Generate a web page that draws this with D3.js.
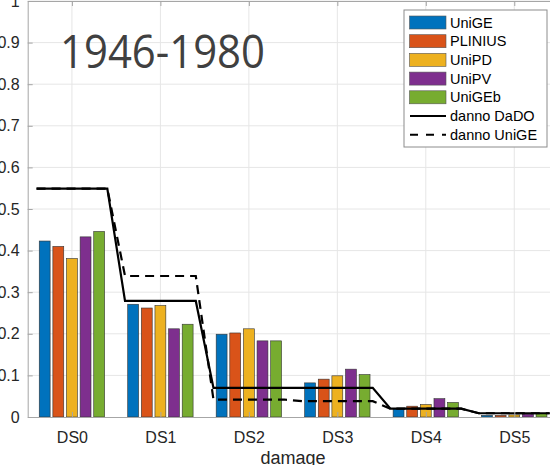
<!DOCTYPE html>
<head>
  <meta charset="UTF-8">
  <script src="https://d3js.org/d3.v7.min.js"></script>
  <title>1946-1980</title>
  <style>
    body { margin: 0; background: #fff; }
    text { font-family: "Liberation Sans", Arial, sans-serif; }
  </style>
</head>
<body>
  <svg id="chart"></svg>
  <script>

    var categories = ["DS0", "DS1", "DS2", "DS3", "DS4", "DS5"];
    var seriesNames = ["UniGE", "PLINIUS", "UniPD", "UniPV", "UniGEb"];
    var seriesColors = ["#0072BD", "#D95319", "#EDB120", "#7E2F8E", "#77AC30"];

    var uniGE   = [0.423, 0.271, 0.199, 0.082, 0.020, 0.004];
    var plinius = [0.410, 0.262, 0.202, 0.091, 0.026, 0.004];
    var uniPD   = [0.381, 0.268, 0.212, 0.099, 0.030, 0.005];
    var uniPV   = [0.433, 0.212, 0.183, 0.115, 0.044, 0.007];
    var uniGEb  = [0.446, 0.223, 0.183, 0.102, 0.035, 0.008];

    var dannoDaDO  = [0.549, 0.279, 0.070, 0.070, 0.020, 0.009];
    var dannoUniGE = [0.549, 0.339, 0.042, 0.038, 0.020, 0.009];

    var yTicks = [0, 0.1, 0.2, 0.3, 0.4, 0.5, 0.6, 0.7, 0.8, 0.9, 1];

    var series = [uniGE, plinius, uniPD, uniPV, uniGEb];

    var width = 550;
    var height = 465;

    var svg = d3.select("#chart")
        .attr("width", width)
        .attr("height", height);

    // category i sits at i+1, like the original axis
    var x = d3.scaleLinear().domain([0.5, 6.5]).range([27.7, 558.5]);
    var y = d3.scaleLinear().domain([0, 1]).range([417, 1]);

    var groupStep = 0.154;
    var barW = 0.123;

    // grid
    svg.append("g").selectAll("line")
        .data(yTicks.slice(1))
        .enter().append("line")
        .attr("x1", x(0.5)).attr("x2", x(6.5))
        .attr("y1", function(d) { return y(d); })
        .attr("y2", function(d) { return y(d); })
        .attr("stroke", "#e6e6e6").attr("stroke-width", 1);

    svg.append("g").selectAll("line")
        .data(categories)
        .enter().append("line")
        .attr("x1", function(d, i) { return x(i + 1); })
        .attr("x2", function(d, i) { return x(i + 1); })
        .attr("y1", y(0)).attr("y2", y(1))
        .attr("stroke", "#e6e6e6").attr("stroke-width", 1);

    // title text inside the axes
    svg.append("text")
        .attr("x", 60).attr("y", 68)
        .attr("textLength", 205)
        .attr("lengthAdjust", "spacingAndGlyphs")
        .style("font-family", "'Open Sans', sans-serif")
        .style("font-size", "45px")
        .attr("fill", "#404040")
        .text("1946-1980");

    // bars
    series.forEach(function(vals, s) {
        svg.append("g").selectAll("rect")
            .data(vals)
            .enter().append("rect")
            .attr("x", function(d, i) { return x(i + 1 + (s - 2) * groupStep - barW / 2); })
            .attr("width", x(barW) - x(0))
            .attr("y", function(d) { return y(d); })
            .attr("height", function(d) { return y(0) - y(d); })
            .attr("fill", seriesColors[s])
            .attr("stroke", "#333")
            .attr("stroke-width", 0.6);
    });

    // step lines: flat over each category, then slope to the next
    function stepPoints(vals) {
        var pts = [];
        vals.forEach(function(v, i) {
            pts.push([i + 1 - 0.4, v]);
            pts.push([i + 1 + 0.4, v]);
        });
        return pts;
    }
    var line = d3.line()
        .x(function(d) { return x(d[0]); })
        .y(function(d) { return y(d[1]); });

    svg.append("path")
        .attr("d", line(stepPoints(dannoUniGE)))
        .attr("fill", "none").attr("stroke", "#000")
        .attr("stroke-width", 2.2)
        .attr("stroke-dasharray", "9,6");

    svg.append("path")
        .attr("d", line(stepPoints(dannoDaDO)))
        .attr("fill", "none").attr("stroke", "#000")
        .attr("stroke-width", 2.2);

    // axes
    var xAxis = d3.axisBottom(x)
        .tickValues([1, 2, 3, 4, 5, 6])
        .tickFormat(function(d) { return categories[d - 1]; })
        .tickSizeInner(-5).tickSizeOuter(0).tickPadding(15);
    var gx = svg.append("g").attr("transform", "translate(0," + y(0) + ")").call(xAxis);

    var yAxis = d3.axisLeft(y)
        .tickValues(yTicks)
        .tickFormat(function(d) { return d === 0 || d === 1 ? d : d3.format(".1f")(d); })
        .tickSizeInner(-5).tickSizeOuter(0).tickPadding(8);
    var gy = svg.append("g").attr("transform", "translate(" + x(0.5) + ",0)").call(yAxis);

    var gTop = svg.append("g").attr("transform", "translate(0," + y(1) + ")")
        .call(d3.axisTop(x).tickValues([1, 2, 3, 4, 5, 6]).tickFormat("")
            .tickSizeInner(-5).tickSizeOuter(0));

    [gx, gy, gTop].forEach(function(g) {
        g.select(".domain").attr("stroke", "#a6a6a6").attr("stroke-width", 1);
        g.selectAll(".tick line").attr("stroke", "#a6a6a6");
        g.selectAll(".tick text")
            .style("font-family", "'Liberation Sans', Arial, sans-serif")
            .style("font-size", "16px")
            .attr("fill", "#262626");
    });

    svg.append("text")
        .attr("x", (x(0.5) + x(6.5)) / 2).attr("y", 464)
        .attr("text-anchor", "middle")
        .style("font-size", "18px")
        .attr("fill", "#262626")
        .text("damage");

    // legend
    var legend = svg.append("g");
    legend.append("rect")
        .attr("x", 404).attr("y", 10)
        .attr("width", 143).attr("height", 137)
        .attr("fill", "#fff").attr("stroke", "#8c8c8c").attr("stroke-width", 1);

    var rowY = function(i) { return 22.5 + i * 18.7; };

    seriesNames.forEach(function(name, i) {
        legend.append("rect")
            .attr("x", 409.5).attr("y", rowY(i) - 6.5)
            .attr("width", 36.5).attr("height", 13)
            .attr("fill", seriesColors[i])
            .attr("stroke", "#555").attr("stroke-width", 0.6);
        legend.append("text")
            .attr("x", 450).attr("y", rowY(i)).attr("dy", "0.35em")
            .style("font-size", "14.5px").attr("fill", "#000")
            .text(name);
    });

    var lineItems = [
        { name: "danno DaDO", dash: null },
        { name: "danno UniGE", dash: "8,8" }
    ];
    lineItems.forEach(function(item, k) {
        var yy = rowY(5 + k);
        legend.append("line")
            .attr("x1", 410).attr("x2", 446)
            .attr("y1", yy).attr("y2", yy)
            .attr("stroke", "#000").attr("stroke-width", 2)
            .attr("stroke-dasharray", item.dash);
        legend.append("text")
            .attr("x", 450).attr("y", yy).attr("dy", "0.35em")
            .style("font-size", "14.5px").attr("fill", "#000")
            .text(item.name);
    });

  </script>
</body>
</html>
